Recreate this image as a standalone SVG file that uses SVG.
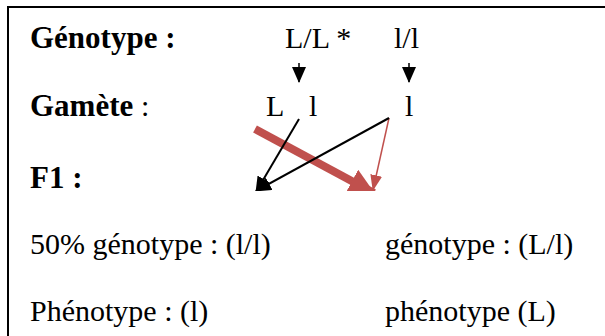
<svg xmlns="http://www.w3.org/2000/svg" width="605" height="336" viewBox="0 0 605 336">
<style>
text{font-family:"Liberation Serif","Times New Roman",serif;font-size:30px;fill:#000}
.b{font-weight:bold;font-size:31px}
.blk{stroke:#000;stroke-width:2;fill:none}
.red{stroke:#c0504d;fill:none}
</style>
<defs>
<marker id="hd" viewBox="0 0 16 14" markerWidth="16" markerHeight="14" refX="15" refY="7" orient="auto" markerUnits="userSpaceOnUse"><path d="M0,0 L16,7 L0,14 z" fill="#000"/></marker>
<marker id="hr" viewBox="0 0 16 12" markerWidth="16" markerHeight="12" refX="15" refY="6" orient="auto" markerUnits="userSpaceOnUse"><path d="M0,0 L16,6 L0,12 z" fill="#c0504d"/></marker>
<marker id="hR" viewBox="0 0 26 26" markerWidth="26" markerHeight="26" refX="25" refY="13" orient="auto" markerUnits="userSpaceOnUse"><path d="M0,0 L26,13 L0,26 z" fill="#c0504d"/></marker>
<clipPath id="cl"><rect x="0" y="0" width="605" height="191"/></clipPath>
</defs>
<rect x="8" y="7" width="610" height="340" fill="#fff" stroke="#000" stroke-width="2"/>
<g id="genotype"><text class="b" x="30" y="48">Génotype :</text><text x="285" y="48">L/L *</text><text x="394" y="48">l/l</text></g>
<g id="gamete"><text class="b" x="30" y="116">Gamète</text><text x="141" y="116">:</text><text x="266" y="116">L</text><text x="309" y="116">l</text><text x="405" y="116">l</text></g>
<g id="f1"><text class="b" x="30" y="188">F1 :</text></g>
<g id="res1"><text x="30" y="254">50% génotype : (l/l)</text><text x="385" y="254">génotype : (L/l)</text></g>
<g id="res2"><text x="30" y="321">Phénotype : (l)</text><text x="385" y="321">phénotype (L)</text></g>
<g id="connectors" clip-path="url(#cl)">
<path d="M299,63 V82" stroke="#000" stroke-width="1.5" marker-end="url(#hd)"/>
<path d="M409,63 V82" stroke="#000" stroke-width="1.5" marker-end="url(#hd)"/>
<path class="red" d="M255,129 L374,193" stroke-width="8" marker-end="url(#hR)"/>
<path class="red" d="M389,118 L373,190" stroke-width="1.5" marker-end="url(#hr)"/>
<path class="blk" d="M299,119 L256,192" marker-end="url(#hd)"/>
<path class="blk" d="M389,118 L256,191" marker-end="url(#hd)"/>
</g>
</svg>
